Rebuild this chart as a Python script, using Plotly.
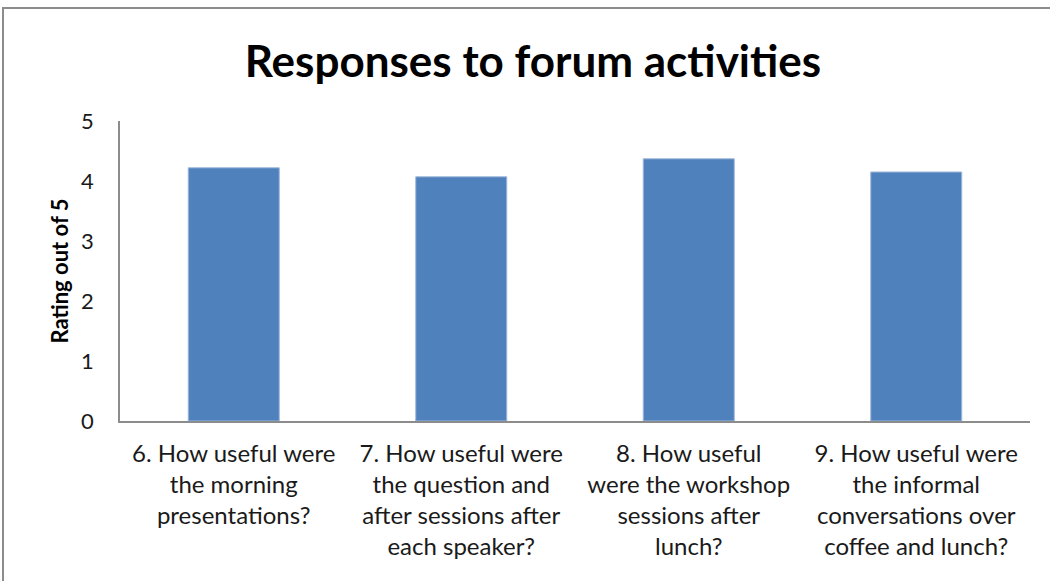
import plotly.graph_objects as go

# Survey questions (line breaks as shown under each bar)
categories = [
    "6. How useful were<br>the morning<br>presentations?",
    "7. How useful were<br>the question and<br>after sessions after<br>each speaker?",
    "8. How useful<br>were the workshop<br>sessions after<br>lunch?",
    "9. How useful were<br>the informal<br>conversations over<br>coffee and lunch?",
]
ratings = [4.22, 4.07, 4.37, 4.15]
y_ticks = [0, 1, 2, 3, 4, 5]

W, H = 1050, 581
ML, MR, MT, MB = 120, 20, 121, 160
plot_w = W - ML - MR
plot_h = H - MT - MB

fig = go.Figure(
    go.Bar(
        x=categories,
        y=ratings,
        marker=dict(color="#4F81BD", line=dict(color="#9DB7DA", width=1)),
        width=0.4,
    )
)

# outer chart frame, expressed in paper coordinates
fx0 = (3 - ML) / plot_w
fx1 = (1060 - ML) / plot_w
fy1 = (H - MB - 8) / plot_h
fy0 = (H - MB - 600) / plot_h
fig.add_shape(
    type="rect", xref="paper", yref="paper",
    x0=fx0, x1=fx1, y0=fy0, y1=fy1,
    line=dict(color="#8C8C8C", width=2), layer="below",
)

font_family = "Lato, 'Open Sans', sans-serif"

fig.update_layout(
    width=W, height=H,
    margin=dict(l=ML, r=MR, t=MT, b=MB),
    paper_bgcolor="white", plot_bgcolor="white",
    showlegend=False,
    title=dict(
        text="<b>Responses to forum activities</b>",
        x=533 / W, xref="container", xanchor="center",
        y=1 - 62 / H, yref="container", yanchor="middle",
        font=dict(family=font_family, size=44, color="black"),
    ),
    font=dict(family=font_family, color="#000000"),
    bargap=0.6,
)

fig.update_xaxes(
    showline=True, linecolor="#8C8C8C", linewidth=1.5,
    showgrid=False, ticks="", ticklabelstandoff=10,
    tickfont=dict(family=font_family, size=24, color="#1A1A1A"),
    tickangle=0,
)
fig.update_yaxes(
    range=[0, 5], tickvals=y_ticks,
    showline=True, linecolor="#8C8C8C", linewidth=1.5,
    showgrid=False, ticks="", ticklabelstandoff=20,
    tickfont=dict(family=font_family, size=22, color="#1A1A1A"),
    title=dict(text="<b>Rating out of 5</b>", standoff=6,
               font=dict(family=font_family, size=22, color="black")),
    zeroline=False,
)

fig.write_html("out.html")
